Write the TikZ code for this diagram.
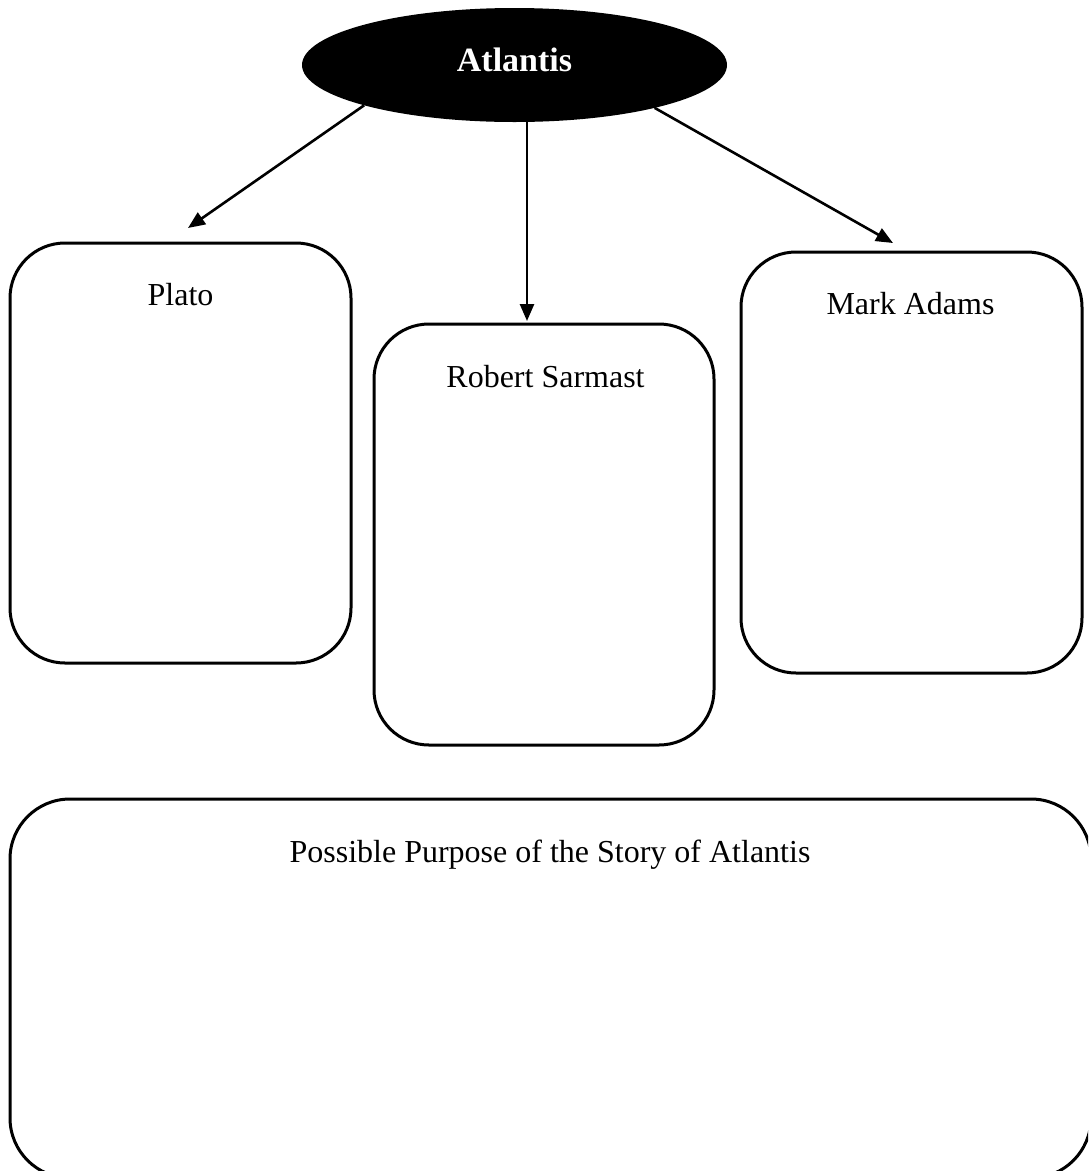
\documentclass[tikz,border=0pt]{standalone}
\usepackage{fontspec}
\setmainfont{Liberation Serif}
\usetikzlibrary{arrows.meta,shapes.geometric}
\begin{document}
\begin{tikzpicture}[x=1pt,y=-1pt,
  boxnode/.style={draw=black, line width=3pt, rectangle, rounded corners=55pt, inner sep=0pt, outer sep=0pt},
  txt/.style={anchor=base, inner sep=0pt, font=\fontsize{32}{38}\selectfont},
  conn/.style={line width=2.6pt, -{Triangle[length=17pt,width=14pt]}}
]
\useasboundingbox (0,0) rectangle (1088,1171);
\fill[white] (0,0) rectangle (1088,1171);
\clip (0,0) rectangle (1088,1171);

% central ellipse
\node[ellipse, fill=black, inner sep=0pt, outer sep=0pt, minimum width=425pt, minimum height=114pt] (atl) at (514.5,65) {};
\node[txt, text=white, font=\fontsize{34}{40}\selectfont\bfseries] (atlt) at (514.5,71) {Atlantis};

% boxes
\node[boxnode, minimum width=341pt, minimum height=420pt] (plato) at (180.5,453) {};
\node[boxnode, minimum width=340pt, minimum height=421pt] (robert) at (544,534.5) {};
\node[boxnode, minimum width=341pt, minimum height=421pt] (mark) at (911.5,462.5) {};
\node[boxnode, rounded corners=60pt, minimum width=1081pt, minimum height=379pt] (purpose) at (550.5,988.5) {};

% texts
\node[txt] (platot) at (180.5,305) {Plato};
\node[txt] (robertt) at (545.5,387) {Robert Sarmast};
\node[txt] (markt) at (910.5,314) {Mark Adams};
\node[txt] (purposet) at (550,862) {Possible Purpose of the Story of Atlantis};

% arrow tips
\coordinate (tipP) at (188,228);
\coordinate (tipR) at (527,321);
\coordinate (tipM) at (893,243);

\draw[conn] (atl.195.7) -- (tipP);
\draw[conn] (atl.south -| tipR) -- (tipR);
\draw[conn] (atl.343.2) -- (tipM);
\end{tikzpicture}
\end{document}
